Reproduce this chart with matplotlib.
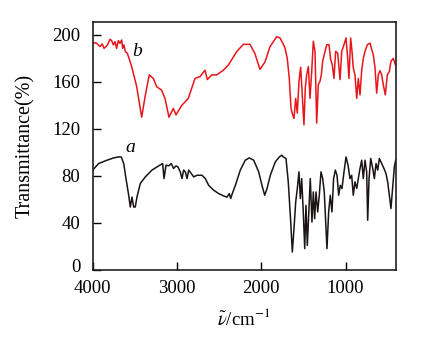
import matplotlib
matplotlib.use("Agg")
import matplotlib.pyplot as plt
from matplotlib.transforms import ScaledTranslation

plt.rcParams['font.family'] = ['Liberation Serif', 'DejaVu Serif']
plt.rcParams['mathtext.fontset'] = 'stix'

# Spectrum b (red, offset upward)
wn_b = [3992, 3953, 3933, 3913, 3886, 3866, 3834, 3815, 3795, 3775, 3755, 3735,
        3716, 3696, 3676, 3656, 3644, 3629, 3613, 3589, 3537, 3478, 3419, 3380,
        3329, 3281, 3241, 3182, 3142, 3095, 3044, 3012, 2944, 2866, 2786, 2727,
        2668, 2640, 2588, 2529, 2450, 2391, 2292, 2213, 2134, 2075, 2016, 1956,
        1897, 1817, 1778, 1746, 1719, 1692, 1668, 1648, 1628, 1612, 1592, 1573,
        1553, 1533, 1514, 1494, 1478, 1462, 1442, 1422, 1402, 1383, 1363, 1343,
        1324, 1304, 1288, 1272, 1244, 1224, 1197, 1177, 1158, 1138, 1118, 1094,
        1066, 1046, 1019, 995, 975, 960, 940, 924, 909, 889, 868, 849, 829, 809,
        790, 770, 742, 710, 690, 671, 651, 631, 612, 592, 572, 553, 529, 505,
        481, 462, 434, 410]
tr_b = [193.5, 192.9, 191.5, 190.1, 192.3, 188.6, 190.6, 192.9, 196.3, 195.2, 191.5, 194.3,
        188.6, 195.2, 192.9, 195.7, 188.6, 191.5, 185.8, 184.4, 173, 156, 130, 147,
        166, 163, 156, 153, 146, 130, 137.5, 132, 140, 146, 163, 164.5,
        170, 162, 166, 166, 170, 174.4, 185.8, 192, 192, 184, 170.7, 177,
        190, 198.5, 197.4, 193.2, 189, 180, 163, 137.8, 132, 129, 146, 133.5,
        160.5, 172.5, 149, 123.5, 155, 166, 173, 146, 169, 194.6, 186, 125,
        157.6, 160.5, 166, 177.6, 186, 191.7, 191.7, 179, 174.7, 163, 186, 184.6,
        162, 186, 191.7, 197.4, 180, 163, 197.4, 186, 172, 166, 146, 163, 149, 170,
        180, 186, 191.7, 193, 187.5, 183, 172, 150.5, 166, 169.6, 166, 157.6, 149, 166,
        169, 177.6, 180, 174.7]

# Spectrum a (black)
wn_a = [4000, 3929, 3830, 3751, 3692, 3661, 3632, 3605, 3573, 3554, 3534, 3514,
        3495, 3475, 3435, 3376, 3297, 3217, 3170, 3154, 3130, 3098, 3068, 3040,
        3012, 2988, 2961, 2941, 2921, 2901, 2881, 2861, 2830, 2802, 2763, 2703,
        2664, 2624, 2565, 2505, 2446, 2407, 2380, 2363, 2348, 2308, 2249, 2190,
        2142, 2090, 2031, 1992, 1960, 1932, 1893, 1834, 1786, 1755, 1739, 1707,
        1680, 1651, 1632, 1612, 1592, 1573, 1553, 1537, 1521, 1502, 1485, 1470,
        1454, 1438, 1419, 1399, 1383, 1367, 1351, 1331, 1312, 1292, 1272, 1253,
        1236, 1221, 1201, 1182, 1162, 1142, 1122, 1102, 1082, 1063, 1043, 1019,
        995, 971, 948, 928, 909, 889, 868, 849, 829, 809, 790, 770, 750, 738,
        722, 702, 678, 659, 639, 619, 600, 572, 545, 521, 501, 481, 462, 441,
        422, 406]
tr_a = [85, 90.6, 93.4, 95.4, 96.2, 96.2, 90.6, 77.8, 63.6, 53.6, 62, 53.6,
        53.6, 62, 73.6, 79.2, 85, 88.6, 90.6, 77.8, 89.2, 88.6, 90.6, 86.4,
        88.6, 87.7, 83.5, 77.8, 85, 83.5, 77.8, 85, 82, 79.2, 80.6, 80.6,
        77.8, 72, 67.9, 65, 63, 62, 65, 60.8, 64.2, 72, 85, 93.4,
        95.4, 93.4, 83.5, 72, 63.6, 69.3, 80.6, 92, 96.2, 97.7, 96.2, 94.9,
        75, 40.8, 15.3, 35.2, 57.9, 69.3, 83.5, 60.8, 77.8, 49.4, 18.2, 55,
        21, 46.5, 77.8, 40.8, 66.4, 43.7, 66.4, 49.4, 63.6, 83.5, 77.8, 66.4,
        40.8, 18.2, 49.4, 63.6, 49.4, 77.8, 85, 80.6, 63.6, 72, 69.3, 83.5,
        96.2, 89.2, 77.8, 80.6, 63.6, 75, 69.3, 77.8, 86.4, 93.4, 77.8, 93.4, 83.5, 42.3,
        77.8, 94.9, 86.4, 77.8, 90.6, 85, 94.9, 90.6, 86.4, 82, 75, 63.6, 52.3, 70.7,
        87.7, 93.4]

x_ticks = [4000, 3000, 2000, 1000]
y_ticks = [0, 40, 80, 120, 160, 200]

fig = plt.figure(figsize=(4.42, 3.37), dpi=100)
ax = fig.add_axes([0.2097, 0.1988, 0.6853, 0.7359])

ax.plot(wn_b, tr_b, color='#e8151b', lw=1.1)
ax.plot(wn_a, tr_a, color='#1a1414', lw=1.1)

ax.set_xlim(4000, 407)
ax.set_ylim(0, 211)
ax.set_xticks(x_ticks)
ax.set_yticks(y_ticks)
ax.tick_params(direction='in', length=6, width=1, labelsize=13.5,
               top=False, right=False)
ax.tick_params(axis='y', pad=9)
ax.tick_params(axis='x', pad=7)
for s in ax.spines.values():
    s.set_linewidth(1.2)
    s.set_color('#231f20')

# lift the zero label slightly so it clears the x tick labels
zero_label = ax.get_yticklabels()[0]
zero_label.set_transform(zero_label.get_transform()
                         + ScaledTranslation(0, 5 / 100, fig.dpi_scale_trans))

ax.text(3552, 100, 'a', fontsize=14, style='italic', ha='center', va='baseline')
ax.text(3469, 182, 'b', fontsize=14, style='italic', ha='center', va='baseline')

ax.set_ylabel('Transmittance(%)', fontsize=14.5, labelpad=12)
ax.set_xlabel(r'$\tilde{\nu}$/cm$^{-1}$', fontsize=13.5, labelpad=8)

fig.savefig('out.png', dpi=100)
